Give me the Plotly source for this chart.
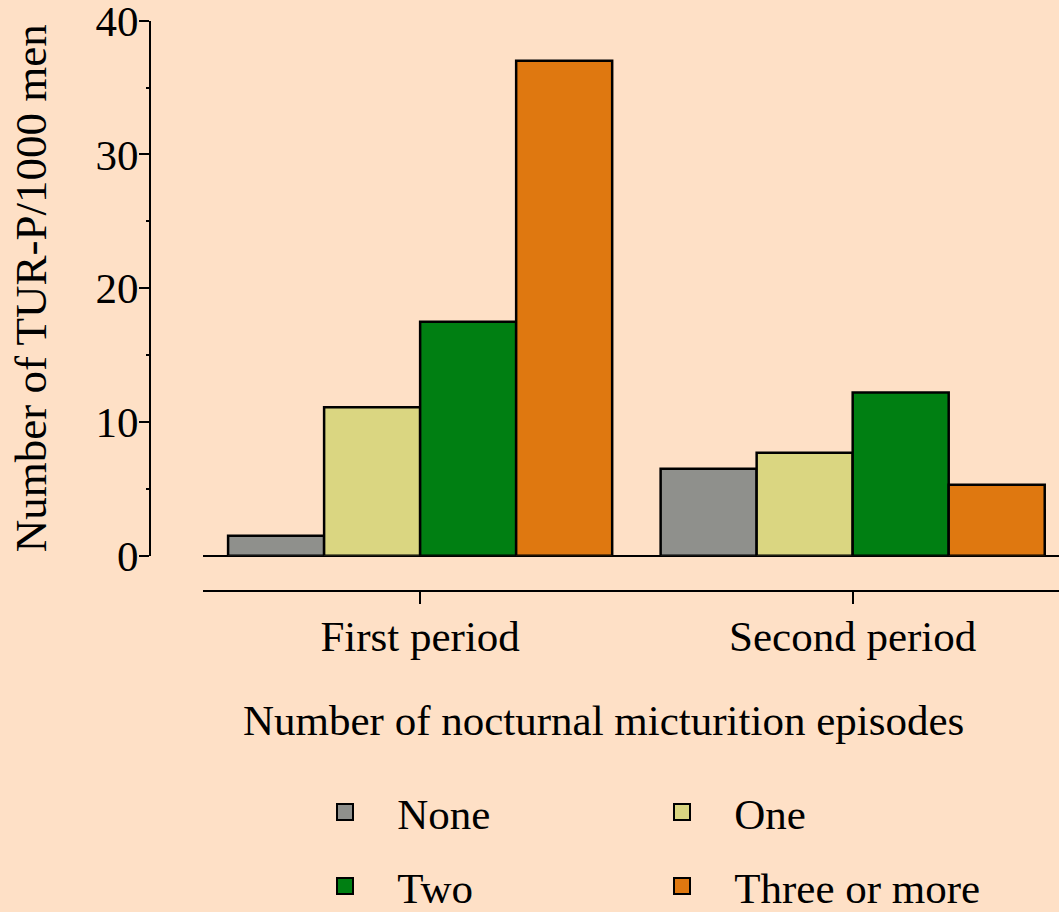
import plotly.graph_objects as go

periods = ["First period", "Second period"]
series_names = ["None", "One", "Two", "Three or more"]
none_vals = [1.5, 6.5]
one_vals = [11.1, 7.7]
two_vals = [17.5, 12.2]
three_vals = [37.0, 5.3]
colors = ["#8f908c", "#dad681", "#007f12", "#df7810"]
y_ticks = [0, 10, 20, 30, 40]

W, H = 1059, 912
BG = "#fee0c6"
FONT = "Liberation Serif, Times New Roman, serif"
FS = 43

fig = go.Figure()
all_vals = [none_vals, one_vals, two_vals, three_vals]
for name, vals, col in zip(series_names, all_vals, colors):
    fig.add_trace(go.Bar(
        x=periods, y=vals, name=name, marker=dict(color=col, line=dict(color="black", width=2.5)),
        showlegend=False,
    ))

# legend entries (larger swatches)
legend_ids = ["legend", "legend", "legend2", "legend2"]
for name, col, lg in zip(series_names, colors, legend_ids):
    fig.add_trace(go.Scatter(
        x=[None], y=[None], mode="markers", name="\u00a0\u00a0\u00a0" + name,
        marker=dict(symbol="square", size=16, color=col, line=dict(color="black", width=2)),
        legend=lg, showlegend=True,
    ))

fig.update_layout(
    width=W, height=H,
    margin=dict(l=0, r=0, t=0, b=0, autoexpand=False),
    paper_bgcolor=BG, plot_bgcolor=BG,
    font=dict(family=FONT, size=FS, color="black"),
    barmode="group", bargap=0.112, bargroupgap=0,
    xaxis=dict(
        domain=[203 / W, 1.0], anchor="free", position=321 / H, automargin=False,
        type="category", range=[-0.502, 1.477],
        showline=True, linecolor="black", linewidth=2,
        ticks="outside", ticklen=12, tickwidth=2, tickcolor="black",
        ticklabelstandoff=-5,
        showgrid=False, zeroline=False,
        tickfont=dict(family=FONT, size=FS),
    ),
    yaxis=dict(
        domain=[(H - 555.7) / H, (H - 20.7) / H], anchor="free", position=150 / W, automargin=False,
        range=[0, 40], tickvals=y_ticks, ticklabeloverflow="allow",
        showline=True, linecolor="black", linewidth=2,
        ticks="outside", ticklen=10, tickwidth=2, tickcolor="black",
        ticklabelstandoff=-8,
        minor=dict(dtick=5, ticks="outside", ticklen=3, tickwidth=2, tickcolor="black"),
        showgrid=False, zeroline=True, zerolinecolor="black", zerolinewidth=2,
        tickfont=dict(family=FONT, size=FS),
        title=dict(text="Number of TUR-P/1000 men", font=dict(family=FONT, size=45), standoff=34),
    ),
    legend=dict(
        orientation="h", x=325 / W, xanchor="left", y=(H - 812) / H, yanchor="middle",
        entrywidth=292, entrywidthmode="pixels", bgcolor="rgba(0,0,0,0)",
        font=dict(family=FONT, size=FS),
    ),
    legend2=dict(
        orientation="h", x=325 / W, xanchor="left", y=(H - 886) / H, yanchor="middle",
        entrywidth=292, entrywidthmode="pixels", bgcolor="rgba(0,0,0,0)",
        font=dict(family=FONT, size=FS),
    ),
    annotations=[dict(
        text="Number of nocturnal micturition episodes", xref="paper", yref="paper",
        x=603 / W, y=(H - 720) / H, xanchor="center", yanchor="middle", showarrow=False,
        font=dict(family=FONT, size=FS),
    )],
)

fig.write_html("out.html", config={"displayModeBar": False},
               post_script="document.body.style.margin='0px';")
